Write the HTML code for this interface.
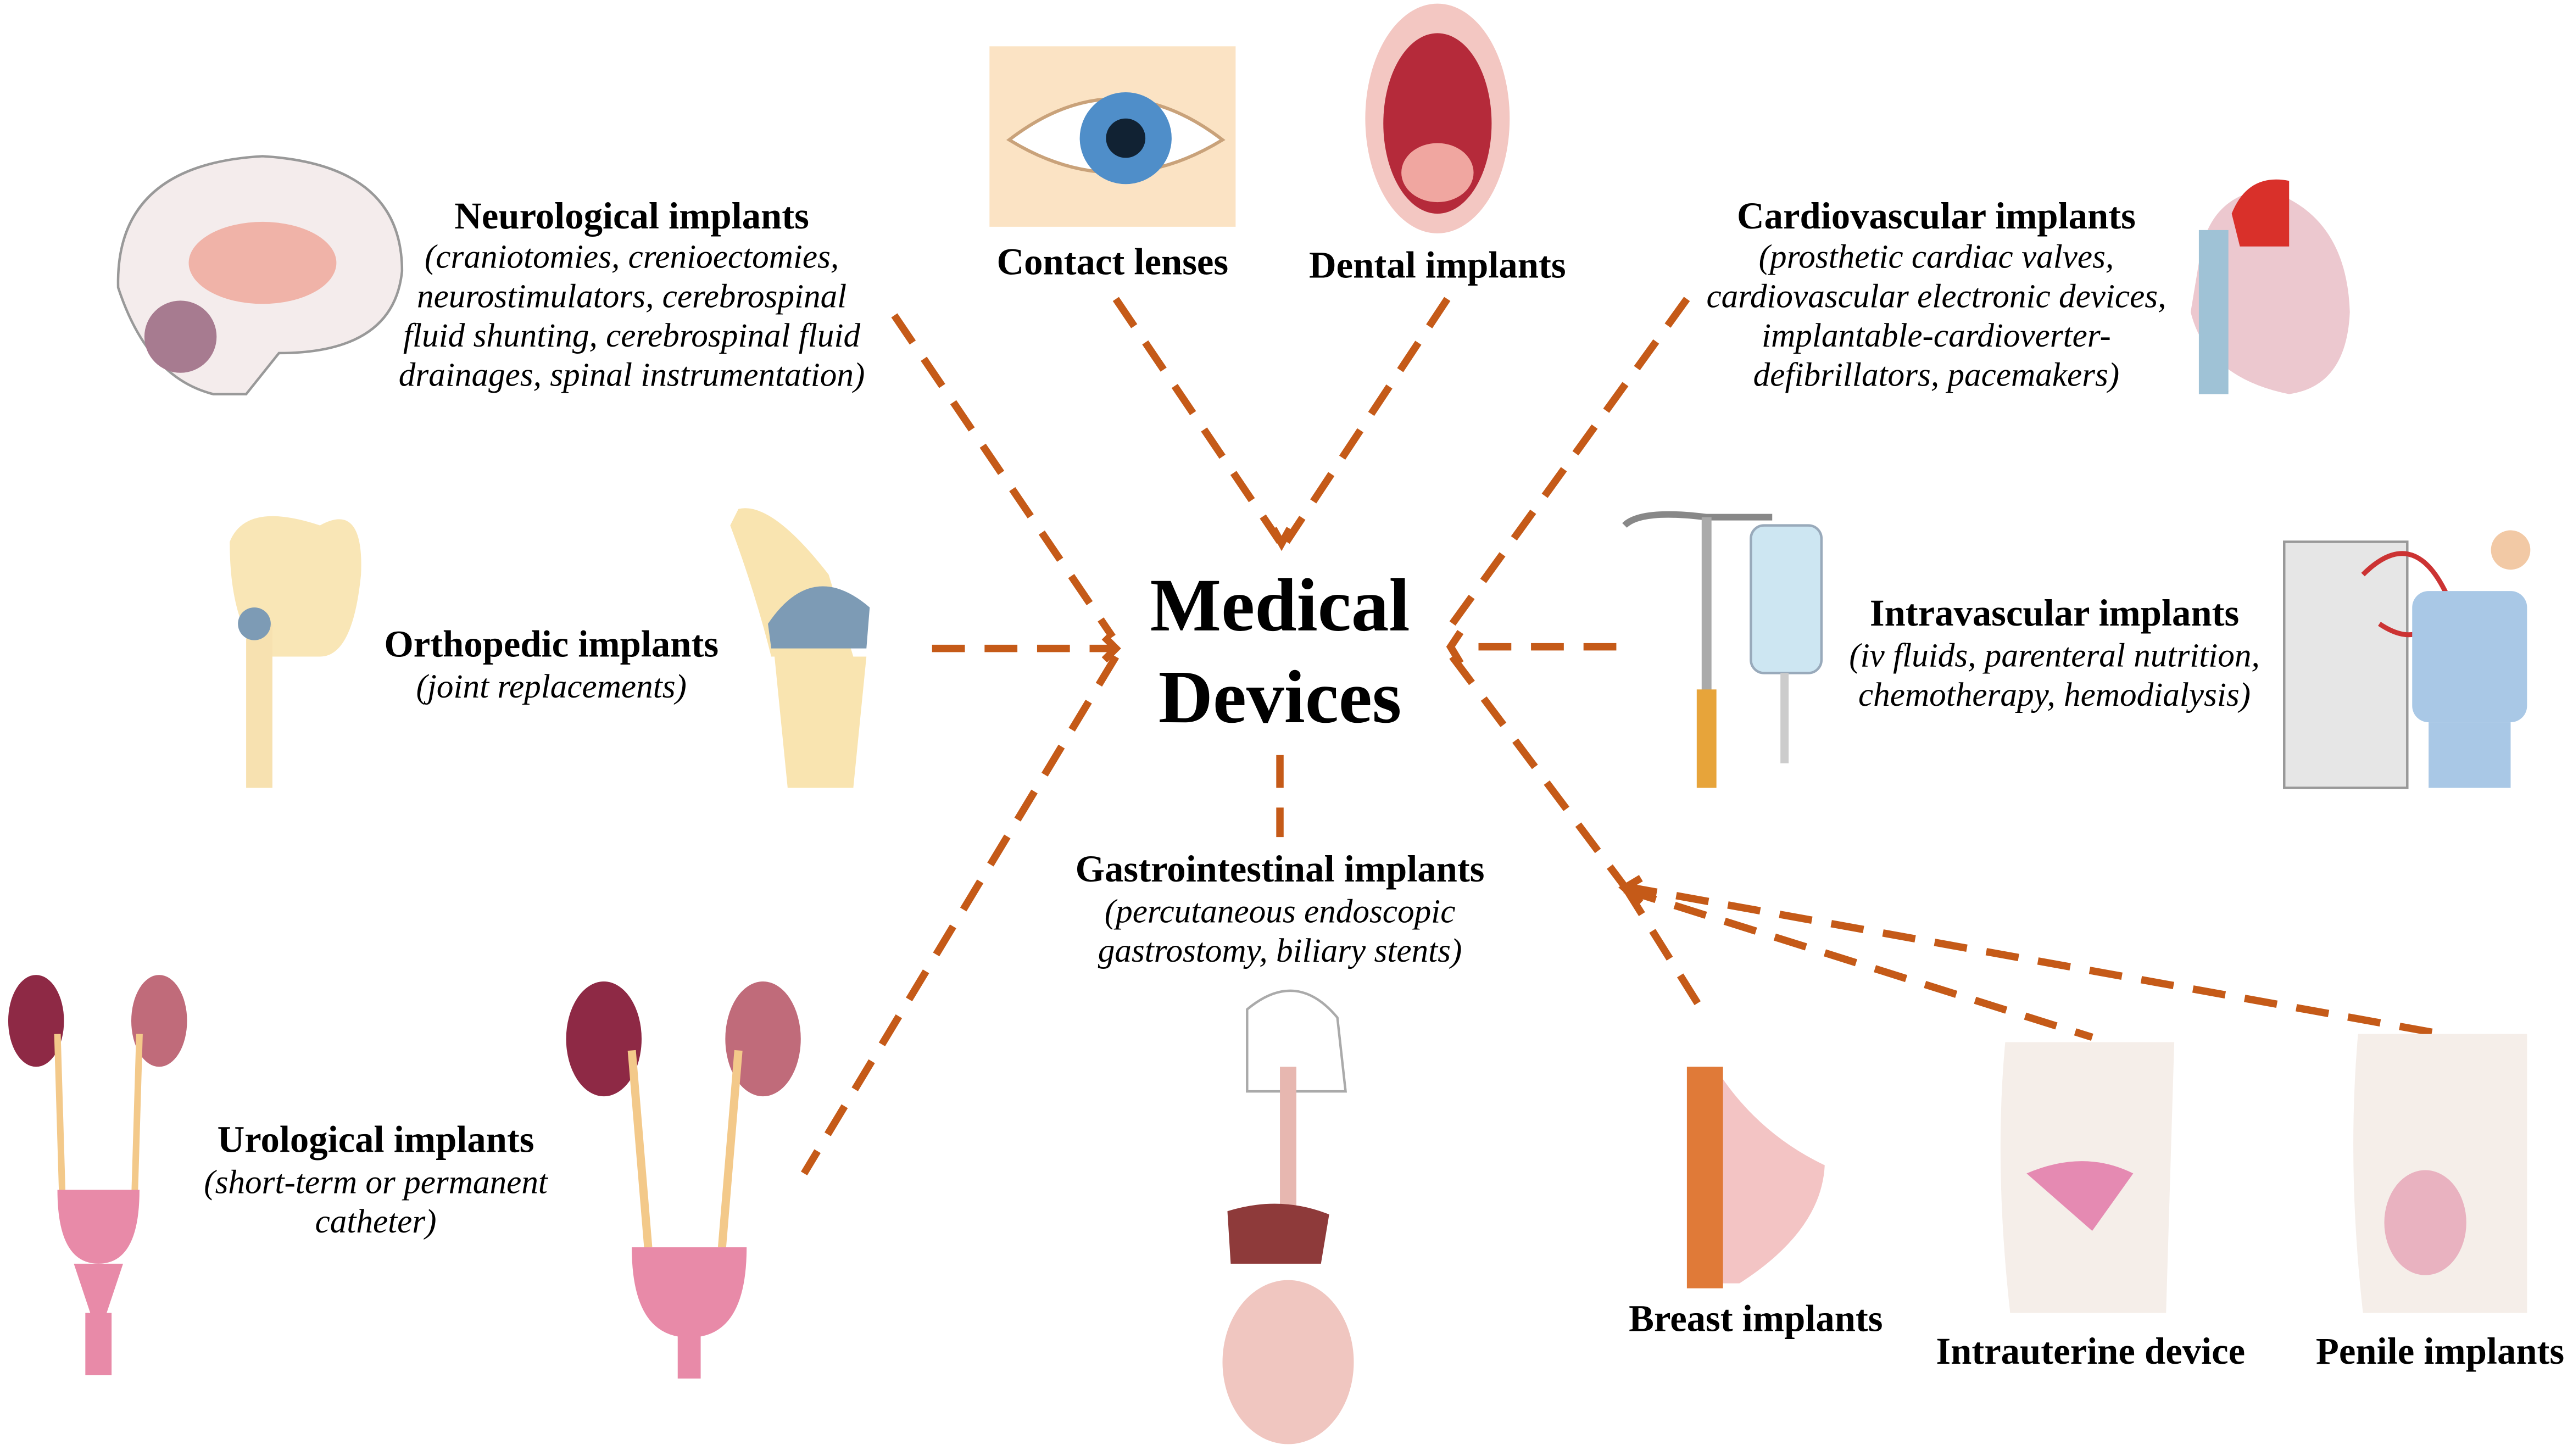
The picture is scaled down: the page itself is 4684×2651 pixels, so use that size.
<!DOCTYPE html>
<html><head><meta charset="utf-8"><style>
html,body{margin:0;padding:0;background:#fff}
svg{display:block}
.b{font-family:"Liberation Serif",serif;font-weight:bold;font-size:23px;text-anchor:middle;fill:#000}
.i{font-family:"Liberation Serif",serif;font-style:italic;font-size:20.5px;text-anchor:middle;fill:#000}
.d{stroke:#C55A18;stroke-width:4.5;fill:none;stroke-dasharray:20,12}
.a{stroke:#C55A18;stroke-width:4.5;fill:none}
</style></head><body>
<svg width="4684" height="2651" viewBox="0 0 1568 887" xmlns="http://www.w3.org/2000/svg">
<rect width="1568" height="887" fill="#fff"/>
<line class="d" x1="545" y1="192" x2="678" y2="388"/>
<line class="d" x1="680" y1="182" x2="780" y2="330"/>
<line class="d" x1="882" y1="182" x2="784" y2="330"/>
<line class="d" x1="1028" y1="182" x2="885" y2="380"/>
<line class="d" x1="568" y1="395" x2="678" y2="395"/>
<line class="d" x1="985" y1="394" x2="890" y2="394"/>
<line class="d" x1="680" y1="400" x2="490" y2="715"/>
<line class="d" x1="780" y1="460" x2="780" y2="510"/>
<line class="d" x1="885" y1="400" x2="990" y2="540"/>
<line class="d" x1="990" y1="540" x2="1035" y2="612"/>
<line class="d" x1="990" y1="542" x2="1275" y2="632"/>
<line class="d" x1="990" y1="540" x2="1488" y2="630"/>
<polyline class="a" points="776,322 781,331 786,322"/>
<polyline class="a" points="673,388 680,395 673,402"/>
<polyline class="a" points="890,385 884,394 890,404"/>
<polyline class="a" points="1000,535 990,541 1000,550"/>
<text x="780" y="384" style="font-family:'Liberation Serif',serif;font-weight:bold;font-size:46px;text-anchor:middle">Medical</text>
<text x="780" y="440" style="font-family:'Liberation Serif',serif;font-weight:bold;font-size:46px;text-anchor:middle">Devices</text>
<text class="b" x="385" y="139">Neurological implants</text>
<text class="i" x="385" y="163">(craniotomies, crenioectomies,</text>
<text class="i" x="385" y="187">neurostimulators, cerebrospinal</text>
<text class="i" x="385" y="211">fluid shunting, cerebrospinal fluid</text>
<text class="i" x="385" y="235">drainages, spinal instrumentation)</text>
<text class="b" x="678" y="167">Contact lenses</text>
<text class="b" x="876" y="169">Dental implants</text>
<text class="b" x="1180" y="139">Cardiovascular implants</text>
<text class="i" x="1180" y="163">(prosthetic cardiac valves,</text>
<text class="i" x="1180" y="187">cardiovascular electronic devices,</text>
<text class="i" x="1180" y="211">implantable-cardioverter-</text>
<text class="i" x="1180" y="235">defibrillators, pacemakers)</text>
<text class="b" x="336" y="400">Orthopedic implants</text>
<text class="i" x="336" y="425">(joint replacements)</text>
<text class="b" x="1252" y="381">Intravascular implants</text>
<text class="i" x="1252" y="406">(iv fluids, parenteral nutrition,</text>
<text class="i" x="1252" y="430">chemotherapy, hemodialysis)</text>
<text class="b" x="780" y="537">Gastrointestinal implants</text>
<text class="i" x="780" y="562">(percutaneous endoscopic</text>
<text class="i" x="780" y="586">gastrostomy, biliary stents)</text>
<text class="b" x="229" y="702">Urological implants</text>
<text class="i" x="229" y="727">(short-term or permanent</text>
<text class="i" x="229" y="751">catheter)</text>
<text class="b" x="1070" y="811">Breast implants</text>
<text class="b" x="1274" y="831">Intrauterine device</text>
<text class="b" x="1487" y="831">Penile implants</text>
<!-- eye -->
<rect x="603" y="28" width="150" height="110" fill="#fbe3c4"/>
<path d="M615 85 Q680 35 745 85 Q680 125 615 85Z" fill="#fff" stroke="#c9a27a" stroke-width="2"/>
<circle cx="686" cy="84" r="28" fill="#4f8ec9"/><circle cx="686" cy="84" r="12" fill="#123"/>
<!-- mouth -->
<ellipse cx="876" cy="72" rx="44" ry="70" fill="#f3c7c2"/>
<ellipse cx="876" cy="75" rx="33" ry="55" fill="#b52a3a"/>
<ellipse cx="876" cy="105" rx="22" ry="18" fill="#f0a6a0"/>
<!-- brain -->
<path d="M72 175 Q70 100 160 95 Q245 100 245 165 Q240 215 170 215 L150 240 L130 240 Q90 230 72 175Z" fill="#f4ecec" stroke="#999" stroke-width="1.5"/>
<ellipse cx="160" cy="160" rx="45" ry="25" fill="#f0b3a8"/>
<circle cx="110" cy="205" r="22" fill="#a77b90"/>
<!-- pelvis & hip -->
<path d="M140 330 Q150 305 195 320 Q222 305 220 350 Q215 400 195 400 L160 400 Q140 380 140 330Z" fill="#f9e6b6"/>
<rect x="150" y="380" width="16" height="100" fill="#f7e1b0"/>
<circle cx="155" cy="380" r="10" fill="#7d9bb5"/>
<!-- knee -->
<path d="M450 310 Q470 305 505 350 L520 400 L470 400 Q460 360 445 320Z" fill="#f9e4b0"/>
<path d="M468 380 Q495 340 530 370 L528 395 L470 395Z" fill="#7d9bb5"/>
<path d="M472 400 L528 400 L520 480 L480 480Z" fill="#f9e4b0"/>
<!-- heart -->
<path d="M1340 160 Q1345 120 1380 115 Q1430 130 1432 190 Q1430 235 1395 240 Q1345 230 1335 190Z" fill="#ecc8cf"/>
<path d="M1360 130 Q1370 105 1395 110 L1395 150 L1365 150Z" fill="#d9302a"/>
<rect x="1340" y="140" width="18" height="100" fill="#9fc2d6"/>
<!-- IV -->
<path d="M990 320 Q1000 310 1040 315 L1080 315" stroke="#888" stroke-width="4" fill="none"/>
<rect x="1037" y="315" width="6" height="160" fill="#aaa"/>
<rect x="1034" y="420" width="12" height="60" fill="#e7a43a"/>
<rect x="1067" y="320" width="43" height="90" rx="8" fill="#cde6f2" stroke="#9ab" stroke-width="1.5"/>
<rect x="1085" y="410" width="5" height="55" fill="#ccc"/>
<!-- dialysis -->
<rect x="1392" y="330" width="75" height="150" fill="#e6e6e6" stroke="#999" stroke-width="1.5"/>
<path d="M1440 350 Q1470 320 1490 360 Q1480 400 1450 380" stroke="#c33" stroke-width="3" fill="none"/>
<rect x="1470" y="360" width="70" height="80" rx="10" fill="#a9c8e6"/>
<circle cx="1530" cy="335" r="12" fill="#f2c9a5"/>
<rect x="1480" y="440" width="50" height="40" fill="#a9c8e6"/>
<!-- kidneys -->
<ellipse cx="22" cy="622" rx="17" ry="28" fill="#8e2945"/><ellipse cx="97" cy="622" rx="17" ry="28" fill="#c06b7a"/>
<path d="M35 630 L38 730 M85 630 L82 730" stroke="#f3c98a" stroke-width="4"/>
<path d="M35 725 L85 725 Q85 770 60 770 Q35 770 35 725Z" fill="#e88aa8"/>
<path d="M45 770 L75 770 L65 800 L55 800Z" fill="#e88aa8"/><rect x="52" y="800" width="16" height="38" fill="#e88aa8"/>
<ellipse cx="368" cy="633" rx="23" ry="35" fill="#8e2945"/><ellipse cx="465" cy="633" rx="23" ry="35" fill="#c06b7a"/>
<path d="M385 640 L395 760 M450 640 L440 760" stroke="#f3c98a" stroke-width="5"/>
<path d="M385 760 L455 760 Q455 815 420 815 Q385 815 385 760Z" fill="#e88aa8"/>
<rect x="413" y="810" width="14" height="30" fill="#e88aa8"/>
<!-- GI -->
<path d="M760 615 Q790 590 815 620 L820 665 L760 665Z" fill="#fff" stroke="#aaa" stroke-width="1.5"/>
<rect x="780" y="650" width="10" height="90" fill="#e7b7b0"/>
<path d="M748 738 Q780 728 810 740 L805 770 L750 770Z" fill="#8e3a3a"/>
<ellipse cx="785" cy="830" rx="40" ry="50" fill="#f0c6c0"/>
<!-- breast -->
<path d="M1030 650 L1030 782 L1060 782 Q1110 750 1112 710 Q1070 690 1045 650Z" fill="#f3c4c4"/>
<rect x="1028" y="650" width="22" height="135" fill="#e07a38"/>
<!-- uterus / penile -->
<path d="M1222 635 L1325 635 L1320 800 L1225 800 Q1215 710 1222 635Z" fill="#f5eee9"/>
<path d="M1235 715 Q1270 700 1300 715 L1275 750Z" fill="#e58ab2"/>
<path d="M1437 630 L1540 630 L1540 800 L1440 800 Q1430 710 1437 630Z" fill="#f5eee9"/>
<ellipse cx="1478" cy="745" rx="25" ry="32" fill="#e9b2c0"/>
</svg>
</body></html>
